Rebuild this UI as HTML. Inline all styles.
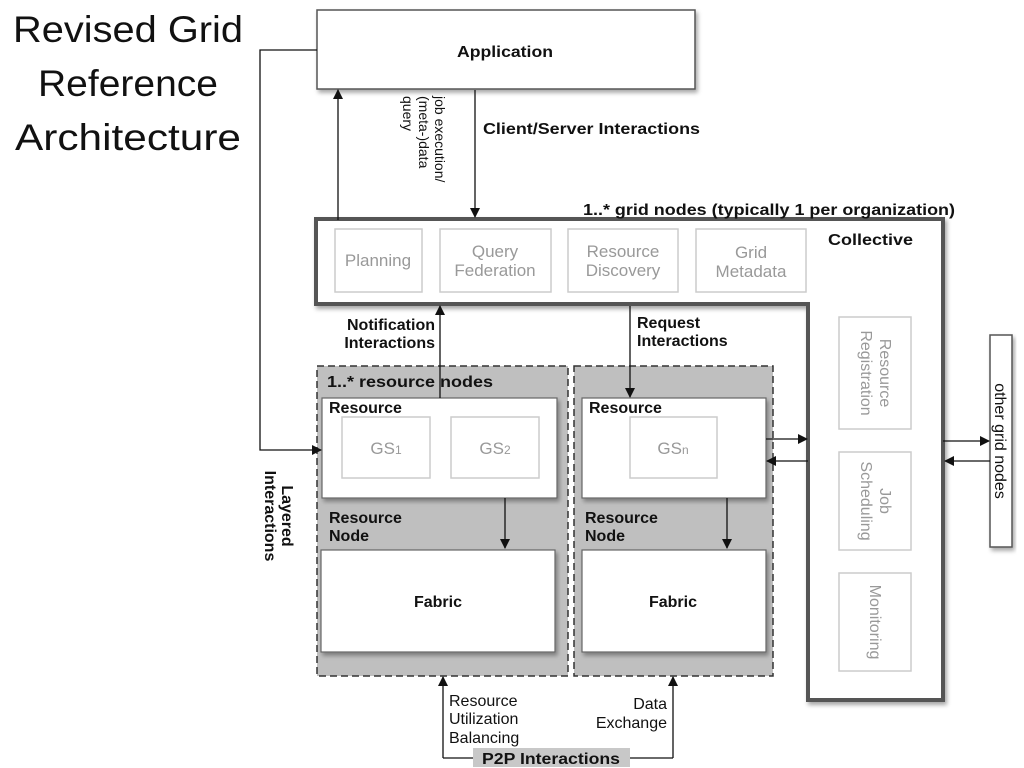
<!DOCTYPE html>
<html><head><meta charset="utf-8"><style>
html,body{margin:0;padding:0;background:#fff;}
svg{display:block;font-family:"Liberation Sans",Arial,sans-serif;}
.b{font-weight:bold;font-size:16px;fill:#111;}
.g{font-size:17px;fill:#999;}
</style></head><body>
<svg width="1024" height="768" viewBox="0 0 1024 768" xmlns="http://www.w3.org/2000/svg">
<defs>
<marker id="a" markerWidth="10" markerHeight="10" refX="9" refY="5" orient="auto" markerUnits="userSpaceOnUse">
<path d="M0,0 L10,5 L0,10 z" fill="#111"/></marker>
<filter id="sh" x="-10%" y="-10%" width="130%" height="130%"><feDropShadow dx="2" dy="3" stdDeviation="2" flood-color="#000" flood-opacity="0.35"/></filter>
</defs>
<g font-family="'Liberation Sans',Arial,sans-serif" font-size="37" fill="#111" text-anchor="middle">
<text x="128" y="42" textLength="230" lengthAdjust="spacingAndGlyphs">Revised Grid</text>
<text x="128" y="96" textLength="180" lengthAdjust="spacingAndGlyphs">Reference</text>
<text x="128" y="150" textLength="226" lengthAdjust="spacingAndGlyphs">Architecture</text>
</g>
<rect x="317" y="10" width="378" height="79" fill="#fff" stroke="#555" stroke-width="1.5" filter="url(#sh)"/>
<text x="457" y="57" class="b" textLength="96" lengthAdjust="spacingAndGlyphs">Application</text>
<path d="M316,219 H943 V700 H808 V304 H316 Z" fill="#fff" stroke="#555" stroke-width="4" filter="url(#sh)"/>
<text x="828" y="245" class="b" textLength="85" lengthAdjust="spacingAndGlyphs">Collective</text>
<text x="583" y="215" class="b" textLength="372" lengthAdjust="spacingAndGlyphs">1..* grid nodes (typically 1 per organization)</text>
<g fill="#fff" stroke="#ccc" stroke-width="1.5">
<rect x="335" y="229" width="87" height="63"/><rect x="440" y="229" width="111" height="63"/>
<rect x="568" y="229" width="110" height="63"/><rect x="696" y="229" width="110" height="63"/>
<rect x="839" y="317" width="72" height="112"/><rect x="839" y="452" width="72" height="98"/><rect x="839" y="573" width="72" height="98"/>
</g>
<g class="g" text-anchor="middle">
<text x="378" y="266">Planning</text>
<text x="495" y="257">Query</text><text x="495" y="276">Federation</text>
<text x="623" y="257">Resource</text><text x="623" y="276">Discovery</text>
<text x="751" y="258">Grid</text><text x="751" y="277">Metadata</text>
<g font-size="16">
<g transform="translate(875,373) rotate(90)"><text x="0" y="-5">Resource</text><text x="0" y="14">Registration</text></g>
<g transform="translate(875,501) rotate(90)"><text x="0" y="-5">Job</text><text x="0" y="14">Scheduling</text></g>
<g transform="translate(875,622) rotate(90)"><text x="0" y="5">Monitoring</text></g>
</g>
</g>
<rect x="990" y="335" width="22" height="212" fill="#fff" stroke="#555" stroke-width="1.5" filter="url(#sh)"/>
<text transform="translate(995,441) rotate(90)" font-size="16" fill="#111" text-anchor="middle">other grid nodes</text>
<rect x="317" y="366" width="251" height="310" fill="#bfbfbf" stroke="#333" stroke-width="1.5" stroke-dasharray="7,4"/>
<rect x="574" y="366" width="199" height="310" fill="#bfbfbf" stroke="#333" stroke-width="1.5" stroke-dasharray="7,4"/>
<text x="327" y="387" class="b" textLength="166" lengthAdjust="spacingAndGlyphs">1..* resource nodes</text>
<g fill="#fff" stroke="#666" stroke-width="1.2" filter="url(#sh)">
<rect x="322" y="398" width="235" height="100"/><rect x="582" y="398" width="184" height="100"/>
<rect x="321" y="550" width="234" height="102"/><rect x="582" y="550" width="184" height="102"/>
</g>
<g fill="#fff" stroke="#ccc" stroke-width="1.5">
<rect x="342" y="417" width="88" height="61"/><rect x="451" y="417" width="88" height="61"/><rect x="630" y="417" width="87" height="61"/>
</g>
<g class="g" text-anchor="middle" font-size="19">
<text x="386" y="454">GS<tspan font-size="12">1</tspan></text>
<text x="495" y="454">GS<tspan font-size="12">2</tspan></text>
<text x="673" y="454">GS<tspan font-size="12">n</tspan></text>
</g>
<text x="329" y="413" class="b">Resource</text><text x="589" y="413" class="b">Resource</text>
<text x="329" y="523" class="b">Resource</text><text x="329" y="541" class="b">Node</text>
<text x="585" y="523" class="b">Resource</text><text x="585" y="541" class="b">Node</text>
<text x="438" y="607" class="b" text-anchor="middle">Fabric</text>
<text x="673" y="607" class="b" text-anchor="middle">Fabric</text>
<g stroke="#111" stroke-width="1.3" fill="none" marker-end="url(#a)">
<path d="M317,50 H260 V450 H321"/>
<path d="M338,220 V90"/>
<path d="M475,90 V217"/>
<path d="M440,398 V306"/>
<path d="M630,306 V397"/>
<path d="M505,498 V548"/>
<path d="M727,498 V548"/>
<path d="M766,439 H807"/>
<path d="M808,461 H767"/>
<path d="M943,441 H989"/>
<path d="M990,461 H945"/>
<path d="M443,758 V677"/>
<path d="M673,758 V677"/>
</g>
<path d="M443,758 H673" stroke="#111" stroke-width="1.3"/>
<rect x="473" y="748" width="157" height="19" fill="#c8c8c8"/>
<text x="551" y="764" class="b" text-anchor="middle" textLength="138" lengthAdjust="spacingAndGlyphs">P2P Interactions</text>
<text x="483" y="134" class="b" textLength="217" lengthAdjust="spacingAndGlyphs">Client/Server Interactions</text>
<g transform="translate(423,96) rotate(90)" font-size="14" fill="#111">
<text x="0" y="-12">job execution/</text><text x="0" y="4">(meta-)data</text><text x="0" y="20">query</text>
</g>
<text x="435" y="330" class="b" text-anchor="end">Notification</text>
<text x="435" y="348" class="b" text-anchor="end">Interactions</text>
<text x="637" y="328" class="b">Request</text>
<text x="637" y="346" class="b">Interactions</text>
<g transform="translate(278,516) rotate(90)" class="b" text-anchor="middle" font-size="14">
<text x="0" y="-4">Layered</text><text x="0" y="13">Interactions</text>
</g>
<g font-size="16" fill="#111">
<text x="449" y="706">Resource</text><text x="449" y="724">Utilization</text><text x="449" y="743">Balancing</text>
<text x="667" y="709" text-anchor="end">Data</text><text x="667" y="728" text-anchor="end">Exchange</text>
</g>
</svg>
</body></html>
